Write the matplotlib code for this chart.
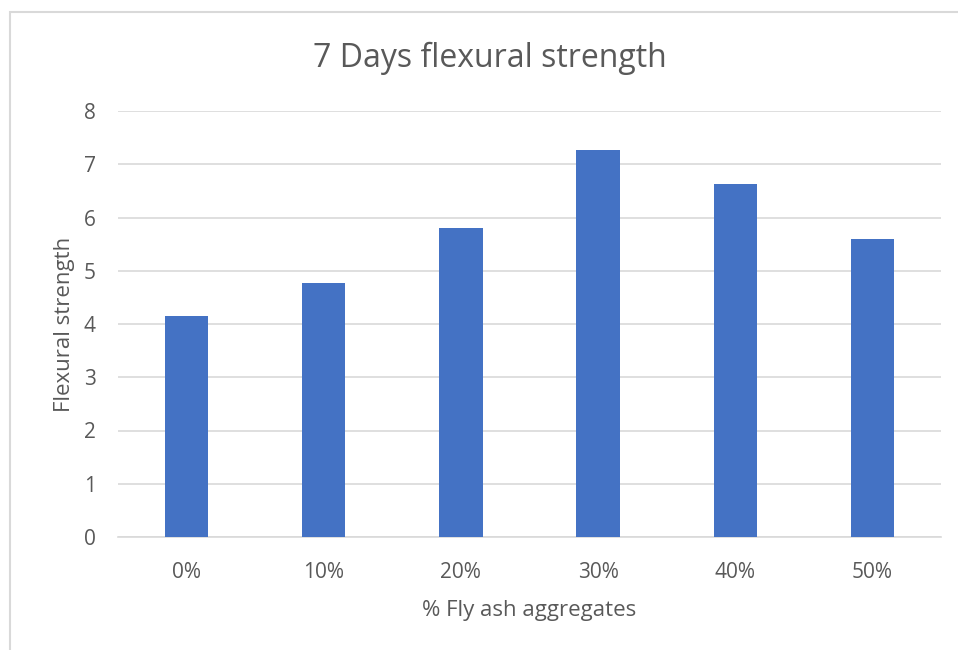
import matplotlib.pyplot as plt
from matplotlib.patches import Rectangle

categories = ["0%", "10%", "20%", "30%", "40%", "50%"]
strength = [4.15, 4.77, 5.80, 7.27, 6.63, 5.60]
y_ticks = [0, 1, 2, 3, 4, 5, 6, 7, 8]

text_color = "#595959"
bar_color = "#4472C4"
grid_color = "#D9D9D9"

plt.rcParams["font.family"] = ["Open Sans", "DejaVu Sans"]

fig = plt.figure(figsize=(9.58, 6.5), dpi=100)
ax = fig.add_axes([118 / 958, 1 - 537 / 650, 823 / 958, 426 / 650])

x = range(len(categories))
ax.bar(x, strength, width=0.315, color=bar_color, zorder=3)

ax.set_xlim(-0.5, len(categories) - 0.5)
ax.set_ylim(0, 8)
ax.set_yticks(y_ticks)
ax.set_xticks(list(x))
ax.set_xticklabels(categories)
ax.grid(axis="y", color=grid_color, linewidth=1.2, zorder=0)
for side in ["top", "right", "left"]:
    ax.spines[side].set_visible(False)
ax.spines["bottom"].set_color(grid_color)
ax.spines["bottom"].set_linewidth(1.2)
ax.tick_params(axis="both", length=0, labelsize=15, colors=text_color)
ax.tick_params(axis="y", pad=16)
ax.tick_params(axis="x", pad=18)

ax.set_xlabel("% Fly ash aggregates", fontsize=16, color=text_color, labelpad=12)
ax.set_ylabel("Flexural strength", fontsize=16, color=text_color, labelpad=6)

fig.text(490 / 958, 1 - 58 / 650, "7 Days flexural strength", fontsize=23,
         color=text_color, ha="center", va="center")

# chart area border, running off the right and bottom edges
fig.patches.append(Rectangle((10 / 958, -0.1), 1.2, 1.1 - 12 / 650,
                             transform=fig.transFigure, fill=False,
                             edgecolor="#D9D9D9", linewidth=1.5))

fig.savefig("out.png", dpi=100)
